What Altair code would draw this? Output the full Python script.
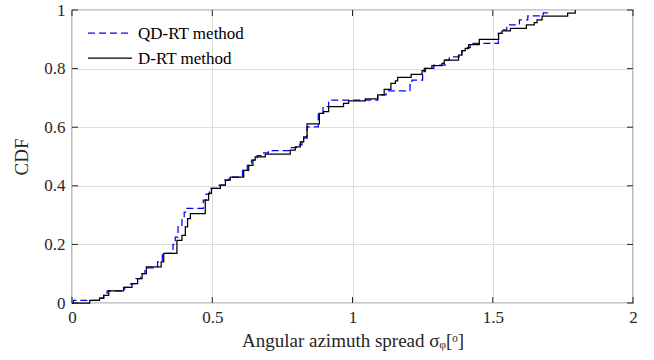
import altair as alt
import pandas as pd

# D-RT method (black, solid) ECDF steps
drt_x = [0.0, 0.063, 0.098, 0.113, 0.131, 0.184, 0.214, 0.234, 0.250, 0.265, 0.318, 0.327, 0.374, 0.392,
         0.404, 0.412, 0.422, 0.475, 0.487, 0.497, 0.529, 0.547, 0.564, 0.612, 0.630, 0.645, 0.653, 0.689,
         0.778, 0.796, 0.814, 0.826, 0.838, 0.882, 0.897, 0.915, 0.968, 0.986, 1.046, 1.090, 1.113, 1.137,
         1.153, 1.161, 1.209, 1.248, 1.256, 1.283, 1.319, 1.327, 1.378, 1.390, 1.402, 1.414, 1.452, 1.521,
         1.533, 1.563, 1.620, 1.648, 1.658, 1.676, 1.767, 1.794]
drt_y = [0.0, 0.009, 0.017, 0.026, 0.041, 0.053, 0.066, 0.083, 0.100, 0.123, 0.140, 0.169, 0.214, 0.231,
         0.260, 0.288, 0.305, 0.351, 0.374, 0.391, 0.402, 0.419, 0.430, 0.453, 0.470, 0.488, 0.499, 0.508,
         0.522, 0.533, 0.550, 0.567, 0.611, 0.647, 0.653, 0.670, 0.681, 0.690, 0.697, 0.710, 0.729, 0.750,
         0.758, 0.770, 0.780, 0.793, 0.801, 0.810, 0.818, 0.829, 0.846, 0.861, 0.869, 0.882, 0.900, 0.920,
         0.929, 0.937, 0.949, 0.957, 0.966, 0.979, 0.989, 1.0]

# QD-RT method (blue, dashed) ECDF steps
qd_x = [0.0, 0.005, 0.098, 0.113, 0.125, 0.188, 0.210, 0.228, 0.245, 0.260, 0.305, 0.322, 0.360, 0.368,
        0.378, 0.392, 0.400, 0.410, 0.468, 0.478, 0.490, 0.525, 0.545, 0.560, 0.608, 0.625, 0.640, 0.660,
        0.680, 0.700, 0.775, 0.800, 0.820, 0.838, 0.878, 0.895, 0.915, 1.090, 1.120, 1.205, 1.212, 1.250,
        1.260, 1.290, 1.330, 1.345, 1.390, 1.410, 1.420, 1.520, 1.535, 1.550, 1.595, 1.625, 1.680, 1.695]
qd_y = [0.0, 0.009, 0.017, 0.026, 0.041, 0.053, 0.066, 0.083, 0.100, 0.120, 0.140, 0.169, 0.200, 0.225,
        0.260, 0.290, 0.310, 0.323, 0.351, 0.372, 0.391, 0.402, 0.419, 0.430, 0.453, 0.470, 0.488, 0.503,
        0.512, 0.520, 0.530, 0.540, 0.563, 0.601, 0.648, 0.670, 0.692, 0.710, 0.724, 0.745, 0.761, 0.790,
        0.801, 0.812, 0.829, 0.840, 0.861, 0.872, 0.886, 0.920, 0.932, 0.949, 0.966, 0.980, 0.990, 1.0]

methods = ["QD-RT method", "D-RT method"]
x_ticks = [0, 0.5, 1, 1.5, 2]
y_ticks = [0, 0.2, 0.4, 0.6, 0.8, 1]

df = pd.concat([
    pd.DataFrame({"x": qd_x, "y": qd_y, "method": methods[0]}),
    pd.DataFrame({"x": drt_x, "y": drt_y, "method": methods[1]}),
])
legend_df = pd.DataFrame({"method": methods})

FONT = "Liberation Serif, DejaVu Serif, serif"
W, H = 561, 293

xs = alt.Scale(domain=[0, 2], nice=False, zero=False)
ys = alt.Scale(domain=[0, 1], nice=False, zero=False)

color = alt.Color("method:N", scale=alt.Scale(domain=methods, range=["#0000ff", "#000000"]), legend=None)
dash = alt.StrokeDash("method:N", scale=alt.Scale(domain=methods, range=[[7, 4], [1, 0]]), legend=None)

xaxis = alt.Axis(values=x_ticks, format=".1~f", labelPadding=6, labelFlush=False,
                 title="Angular azimuth spread σᵩ[ᵒ]", titlePadding=6)
yaxis = alt.Axis(values=y_ticks, format=".1~f", labelPadding=7, labelFlush=False,
                 title="CDF", titlePadding=12)

base = alt.Chart(df)
blue = base.transform_filter(alt.datum.method == methods[0]).mark_line(
    interpolate="step-after", strokeWidth=1.25).encode(
    x=alt.X("x:Q", scale=xs, axis=xaxis), y=alt.Y("y:Q", scale=ys, axis=yaxis),
    color=color, strokeDash=dash)
black = base.transform_filter(alt.datum.method == methods[1]).mark_line(
    interpolate="step-after", strokeWidth=1.25).encode(
    x=alt.X("x:Q", scale=xs), y=alt.Y("y:Q", scale=ys, axis=None), color=color, strokeDash=dash)

xt = pd.DataFrame({"v": x_ticks})
yt = pd.DataFrame({"v": y_ticks})
tick_style = dict(color="#262626", strokeWidth=1)
bt = alt.Chart(xt).mark_rule(**tick_style).encode(x=alt.X("v:Q", scale=xs), y=alt.value(H), y2=alt.value(H - 6))
tt = alt.Chart(xt).mark_rule(**tick_style).encode(x=alt.X("v:Q", scale=xs), y=alt.value(0), y2=alt.value(6))
lt = alt.Chart(yt).mark_rule(**tick_style).encode(y=alt.Y("v:Q", scale=ys, axis=None), x=alt.value(0), x2=alt.value(6))
rt = alt.Chart(yt).mark_rule(**tick_style).encode(y=alt.Y("v:Q", scale=ys, axis=None), x=alt.value(W), x2=alt.value(W - 6))

# manual legend (rows placed by a point scale)
leg_y = alt.Y("method:N", scale=alt.Scale(type="point", domain=methods, range=[23, 48], padding=0), axis=None)
leg_line = alt.Chart(legend_df).mark_rule(strokeWidth=1.25).encode(
    x=alt.value(16), x2=alt.value(60), y=leg_y, color=color, strokeDash=dash)
leg_text = alt.Chart(legend_df).mark_text(align="left", baseline="middle", font=FONT, fontSize=17,
                                          color="#000000", dy=1).encode(
    x=alt.value(66), y=leg_y, text="method:N")

chart = alt.layer(blue, black, bt, tt, lt, rt, leg_line, leg_text).resolve_scale(y="independent").properties(
    width=W, height=H,
    autosize=alt.AutoSizeParams(type="none"),
    padding={"left": 72, "top": 10, "right": 21, "bottom": 57},
    background="white",
).configure_view(stroke="#262626", strokeWidth=1.2).configure_axis(
    ticks=False, domain=False, grid=True, gridColor="#dcdcdc", gridWidth=1,
    labelFont=FONT, labelFontSize=17, labelColor="#262626",
    titleFont=FONT, titleFontSize=19, titleFontWeight="normal", titleColor="#262626",
)

chart.save("out.html", embed_options={"renderer": "svg", "actions": False})
